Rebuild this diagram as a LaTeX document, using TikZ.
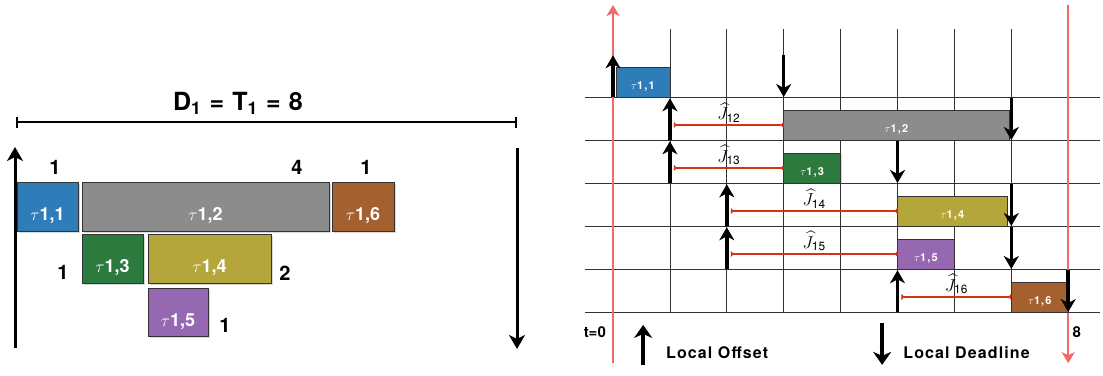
\documentclass[tikz,border=0pt]{standalone}
\usepackage{fontspec}
\setsansfont{TeX Gyre Heros}
\usepackage{amsmath}
\usetikzlibrary{arrows.meta}
\usetikzlibrary{shadows}

\definecolor{taskblue}{RGB}{46,125,185}
\definecolor{taskgray}{RGB}{140,140,140}
\definecolor{taskbrown}{RGB}{165,96,48}
\definecolor{taskgreen}{RGB}{45,122,62}
\definecolor{taskolive}{RGB}{181,166,60}
\definecolor{taskpurple}{RGB}{150,104,178}
\definecolor{jred}{RGB}{211,52,24}
\definecolor{axisred}{RGB}{241,106,106}

\newcommand{\tlab}[1]{$\tau$#1}

\begin{document}
\begin{tikzpicture}[x=1pt, y=-1pt,
    every node/.style={inner sep=0pt},
    bigbox/.style={draw=black!80, line width=0.6pt, text=white,
        drop shadow={shadow xshift=1.5pt, shadow yshift=-1.5pt, opacity=0.3},
        text height=32pt, text depth=4pt,
        font=\sffamily\bfseries\fontsize{18}{18}\selectfont},
    numtxt/.style={font=\sffamily\bfseries\fontsize{20}{20}\selectfont},
    bigarrow/.style={line width=3pt, -{Stealth[length=14pt, width=16pt, inset=4pt]}},
    dimline/.style={line width=1.8pt, {Bar[width=11pt]}-{Bar[width=11pt]}},
    gridline/.style={line width=0.8pt, black!80},
    redaxis/.style={line width=2pt, axisred, -{Stealth[length=11pt, width=13pt, inset=3pt]}},
    evarrow/.style={line width=3.5pt, -{Stealth[length=13pt, width=15pt, inset=4pt]}},
    smallbox/.style={draw=black!80, line width=0.5pt,
        drop shadow={shadow xshift=1pt, shadow yshift=-1pt, opacity=0.3}},
    smalltxt/.style={text=white, yshift=-5pt,
        font=\sffamily\bfseries\fontsize{11}{11}\selectfont\addfontfeatures{LetterSpace=10}},
    jline/.style={line width=1.8pt, jred,
        {Triangle[reversed, length=3pt, width=6pt]}-{Triangle[reversed, length=3pt, width=6pt]}},
    jtxt/.style={text=black, font=\fontsize{17}{17}\selectfont, inner sep=2pt},
    legtxt/.style={font=\sffamily\bfseries\fontsize{16}{16}\selectfont\addfontfeatures{LetterSpace=7}}
    ]
    \useasboundingbox (0,0) rectangle (1103,375);

    % left: the task graph of one period
    \node[font=\sffamily\bfseries\fontsize{25}{25}\selectfont\addfontfeatures{LetterSpace=5}] (Dlab) at (238,103)
        {D\textsubscript{1} = T\textsubscript{1} = 8};
    \coordinate (dimL) at (16,122);
    \coordinate (dimR) at (517,122);
    \draw[dimline] (dimL) -- (dimR);

    \coordinate (relB) at (15,348);
    \coordinate (relT) at (15,147);
    \coordinate (dlT) at (517,148);
    \coordinate (dlB) at (517,349);
    \draw[bigarrow] (relB) -- (relT);
    \draw[bigarrow] (dlT) -- (dlB);

    \node[bigbox, fill=taskblue, minimum width=61pt, minimum height=49pt] (L11) at (47.5,206.5) {\tlab{1,1}};
    \node[bigbox, fill=taskgray, minimum width=247pt, minimum height=49pt] (L12) at (205.5,206.5) {\tlab{1,2}};
    \node[bigbox, fill=taskbrown, minimum width=62pt, minimum height=49pt] (L16) at (363,206.5) {\tlab{1,6}};
    \node[bigbox, fill=taskgreen, minimum width=61pt, minimum height=49pt] (L13) at (112.5,258.5) {\tlab{1,3}};
    \node[bigbox, fill=taskolive, minimum width=123pt, minimum height=49pt] (L14) at (209.5,258.5) {\tlab{1,4}};
    \node[bigbox, fill=taskpurple, minimum width=60pt, minimum height=48pt] (L15) at (178,312) {\tlab{1,5}};

    \node[numtxt] (c11) at (55,167) {1};
    \node[numtxt] (c12) at (297,167) {4};
    \node[numtxt] (c16) at (366,167) {1};
    \node[numtxt] (c13) at (63,272) {1};
    \node[numtxt] (c14) at (285,273) {2};
    \node[numtxt] (c15) at (225,325) {1};

    % right: the schedule on the time grid
    \begin{scope}[shift={(613,54)}, x=56.9pt, y=-43pt]
        \foreach \t in {1,...,7}{
            \draw[gridline] (\t,-0.58) -- (\t,6);
        }
        \foreach \r in {1,...,6}{
            \draw[gridline] (-0.49,\r) -- (8.56,\r);
        }
        \coordinate (t0B) at (0,7.19);
        \coordinate (t0T) at (0,-1.14);
        \coordinate (t8T) at (8,-1.14);
        \coordinate (t8B) at (8,7.19);
        \draw[redaxis] (t0B) -- (t0T);
        \draw[redaxis] (t8T) -- (t8B);

        % start/end/row/colour/index
        \foreach \s/\e/\r/\c/\n in {0.05/1/1/taskblue/1, 3/6.96/2/taskgray/2, 3/4/3/taskgreen/3,
                                    5/6.93/4/taskolive/4, 5/6/5/taskpurple/5, 7/8/6/taskbrown/6}{
            \draw[smallbox, fill=\c] (\s,\r-0.7) rectangle (\e,\r)
                node[midway, smalltxt] (R1\n) {\tlab{1,\n}};
        }

        % local offsets and local deadlines
        \foreach \t/\r in {0/1, 1/2, 1/3, 2/4, 2/5, 5/6}{
            \draw[evarrow] (\t,\r) -- (\t,\r-0.97);
        }
        \foreach \t/\r in {3/1, 7/2, 5/3, 7/4, 7/5, 8/6}{
            \draw[evarrow] (\t,\r-0.97) -- (\t,\r);
        }

        \foreach \a/\b/\r in {1/3/2, 1/3/3, 2/5/4, 2/5/5, 5/7/6}{
            \draw[jline] (\a+0.07,\r-0.35) -- (\b,\r-0.35)
                node[midway, above, jtxt] (J1\r) {$\widehat{J}_{\mathsf{1\r}}$};
        }

        \node[legtxt, font=\sffamily\bfseries\fontsize{15}{15}\selectfont] (tzero) at (-0.32,6.47) {t=0};
        \node[legtxt, font=\sffamily\bfseries\fontsize{15}{15}\selectfont] (teight) at (8.15,6.47) {8};

        \coordinate (offB) at (0.53,7.23);
        \coordinate (offT) at (0.53,6.3);
        \coordinate (dlnT) at (4.73,6.26);
        \coordinate (dlnB) at (4.73,7.23);
        \draw[evarrow, -{Stealth[length=13pt, width=18pt, inset=4pt]}] (offB) -- (offT);
        \draw[evarrow, -{Stealth[length=13pt, width=18pt, inset=4pt]}] (dlnT) -- (dlnB);
        \node[legtxt, anchor=west] (offlab) at (0.93,6.95) {Local Offset};
        \node[legtxt, anchor=west] (dlnlab) at (5.1,6.95) {Local Deadline};
    \end{scope}
\end{tikzpicture}
\end{document}
